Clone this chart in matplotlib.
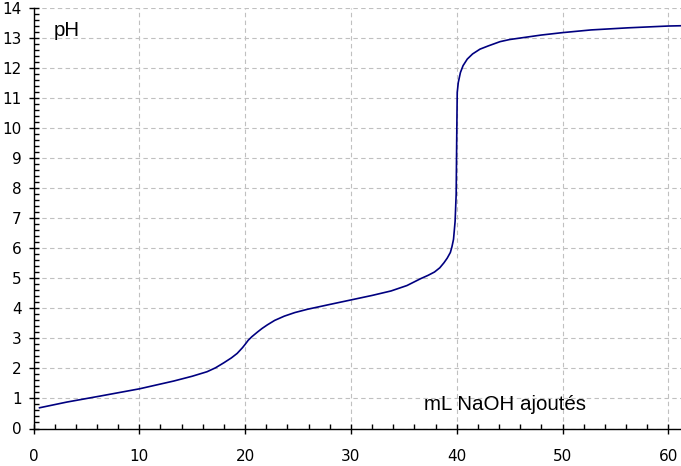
import matplotlib
matplotlib.use("Agg")
import matplotlib.pyplot as plt
from matplotlib.ticker import MultipleLocator

# ------------------ DATA ------------------
ml_naoh = [0.57, 3.15, 6.3, 10.0, 13.25, 15.0, 16.4, 17.2, 18.0, 18.7,
           19.25, 19.75, 20.0, 20.3, 20.65, 21.2, 21.6, 22.1, 22.8, 23.7,
           24.7, 25.9, 28.0, 30.0, 32.0, 33.8, 35.3, 36.6, 37.3, 37.9,
           38.4, 38.8, 39.1, 39.4, 39.55, 39.7, 39.85, 39.95, 40.0, 40.05,
           40.15, 40.35, 40.6, 41.0, 41.5, 42.2, 43.0, 44.1, 45.0, 46.4,
           48.0, 50.0, 52.7, 56.2, 60.0, 61.3]
ph = [0.69, 0.88, 1.08, 1.32, 1.58, 1.74, 1.89, 2.02, 2.19, 2.35,
      2.50, 2.69, 2.80, 2.94, 3.06, 3.22, 3.33, 3.45, 3.60, 3.74,
      3.86, 3.97, 4.13, 4.28, 4.43, 4.58, 4.76, 4.99, 5.10, 5.21,
      5.35, 5.52, 5.67, 5.86, 6.05, 6.30, 6.9, 7.8, 9.6, 11.19,
      11.52, 11.85, 12.08, 12.30, 12.47, 12.63, 12.74, 12.88, 12.95, 13.02,
      13.10, 13.18, 13.27, 13.34, 13.40, 13.41]

x_ticks = [0, 10, 20, 30, 40, 50, 60]
y_ticks = list(range(0, 15))

W, H = 681, 466
fig = plt.figure(figsize=(W / 100, H / 100), dpi=100)
ax = fig.add_axes([33.5 / W, (H - 428.5) / H, (W - 33.5) / W, 420.5 / H])

ax.plot(ml_naoh, ph, color="#000080", lw=1.2)

ax.set_xlim(0, (W - 33.5) / 10.58)
ax.set_ylim(0, 14)
ax.set_xticks(x_ticks)
ax.set_yticks(y_ticks)
ax.xaxis.set_minor_locator(MultipleLocator(2))
ax.yaxis.set_minor_locator(MultipleLocator(0.2))

ax.grid(True, which="major", color="#c0c0c0", linestyle=(0, (4, 3)), lw=0.8)
for s in ["top", "right"]:
    ax.spines[s].set_visible(False)
for s in ["left", "bottom"]:
    ax.spines[s].set_linewidth(1.0)

ax.tick_params(which="major", direction="inout", length=7, width=1,
               labelsize=11)
ax.tick_params(which="minor", direction="in", length=3.5, width=1)
ax.tick_params(axis="x", which="major", pad=11)
ax.tick_params(axis="y", which="major", pad=5)

fig.text(54 / W, 1 - 36 / H, "pH", fontsize=14.8, family="Liberation Sans",
         va="baseline", ha="left")
fig.text(424 / W, 1 - 410 / H, "mL NaOH ajoutés", fontsize=14.8,
         family="Liberation Sans", va="baseline", ha="left")

fig.savefig("out.png", dpi=100)
